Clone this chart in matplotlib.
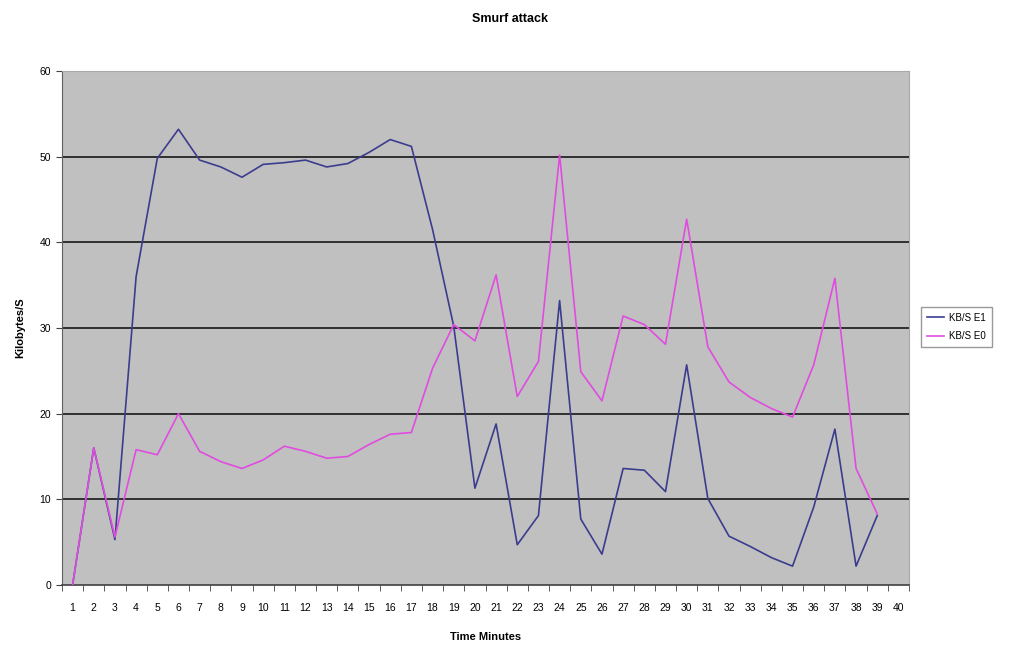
import numpy as np
import matplotlib
matplotlib.use("Agg")
import matplotlib.pyplot as plt

plt.rcParams['font.family'] = ['Liberation Sans', 'DejaVu Sans']

minutes = list(range(1, 41))
kbs_e1 = [0, 16, 5.3, 36, 49.8, 53.2, 49.6, 48.8, 47.6, 49.1, 49.3, 49.6, 48.8, 49.2,
          50.5, 52, 51.2, 41.5, 30.2, 11.3, 18.8, 4.7, 8.1, 33.2, 7.7, 3.6, 13.6, 13.4,
          10.9, 25.7, 10.1, 5.7, 4.5, 3.2, 2.2, 9.1, 18.2, 2.2, 8.1]
kbs_e0 = [0, 16, 5.6, 15.8, 15.2, 20, 15.6, 14.4, 13.6, 14.6, 16.2, 15.6, 14.8, 15,
          16.4, 17.6, 17.8, 25.3, 30.4, 28.5, 36.2, 22, 26.1, 50.2, 24.9, 21.5, 31.4, 30.4,
          28.1, 42.7, 27.8, 23.7, 21.9, 20.6, 19.6, 25.7, 35.8, 13.6, 8.3]
y_ticks = [0, 10, 20, 30, 40, 50, 60]

fig = plt.figure(figsize=(10.14, 6.45), dpi=100)
ax = fig.add_axes([62/1014, 1 - 585/645, 847/1014, 514/645])
ax.set_facecolor('#c0c0c0')

# excel style: dark gridlines inside, none on the top edge
for yv in y_ticks[1:-1]:
    ax.axhline(yv, color='#303030', lw=1.4, zorder=1)

x = np.arange(1, len(kbs_e1) + 1)
ax.plot(x, kbs_e1, color='#3c3c8e', lw=1.2, label='KB/S E1', zorder=3)
ax.plot(x, kbs_e0, color='#e04ce0', lw=1.2, label='KB/S E0', zorder=3)

ax.set_xlim(0.5, len(minutes) + 0.5)
ax.set_ylim(0, 60)
ax.set_yticks(y_ticks)

ax.set_xticks(minutes)
ax.set_xticklabels([str(m) for m in minutes], fontsize=7.5)
ax.set_xticks(np.arange(0.5, len(minutes) + 1, 1), minor=True)
ax.tick_params(axis='x', which='major', length=0, pad=13)
ax.tick_params(axis='x', which='minor', length=4, color='#404040', direction='out')
ax.tick_params(axis='y', length=4, color='#404040', labelsize=7.5, pad=4)

ax.spines['top'].set_color('#a8a8a8')
ax.spines['right'].set_color('#a8a8a8')
ax.spines['left'].set_color('#606060')
ax.spines['bottom'].set_color('#404040')
ax.spines['bottom'].set_linewidth(1.2)

fig.text(510/1014, 1 - 19/645, 'Smurf attack', ha='center', va='center',
         fontsize=9, fontweight='bold')
ax.set_xlabel('Time Minutes', fontsize=8, fontweight='bold', labelpad=14)
ax.set_ylabel('Kilobytes/S', fontsize=8, fontweight='bold', labelpad=10)

fig.legend(loc='center left', bbox_to_anchor=(916/1014, 1 - 327/645), fontsize=7,
           frameon=True, fancybox=False, edgecolor='#808080', handlelength=1.8,
           handletextpad=0.5, borderpad=0.6, labelspacing=0.9)

fig.savefig('out.png', dpi=100)
